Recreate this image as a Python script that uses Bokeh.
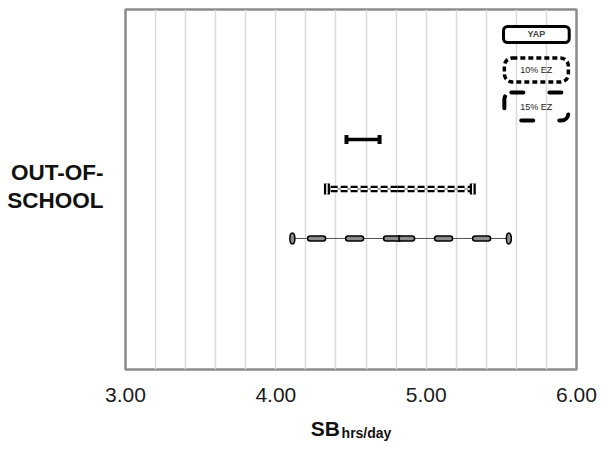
from bokeh.plotting import figure
from bokeh.models import Range1d, FixedTicker, NumeralTickFormatter, Label, LinearAxis
from bokeh.embed import file_html
from bokeh.resources import INLINE

# ---- data ----
groups = ["YAP", "10% EZ", "15% EZ"]
rows = [0, 1, 2]
lower = [4.47, 4.34, 4.11]
upper = [4.69, 5.31, 5.55]
mean = [4.58, 4.81, 4.82]
x_ticks = [3, 4, 5, 6]
grid_ticks = [3.0, 3.2, 3.4, 3.6, 3.8, 4.0, 4.2, 4.4, 4.6, 4.8, 5.0, 5.2, 5.4, 5.6, 5.8, 6.0]
row_label = "OUT-OF-\nSCHOOL"
axis_main = "SB"
axis_sub = "hrs/day"

FONT = "Liberation Sans"

p = figure(width=600, height=446, output_backend="svg", toolbar_location=None,
           x_range=Range1d(3, 6), y_range=Range1d(4.647, -2.626),
           min_border_left=125, min_border_right=24, min_border_top=9, min_border_bottom=77)
p.background_fill_color = "white"
p.border_fill_color = "white"
p.outline_line_color = "#8c8c8c"
p.outline_line_width = 2.5

p.xgrid.ticker = FixedTicker(ticks=grid_ticks)
p.xgrid.grid_line_color = "#d9d9d9"
p.xgrid.grid_line_width = 1.5
p.ygrid.visible = False


def bare(axis):
    axis.axis_line_color = None
    axis.major_tick_line_color = None
    axis.minor_tick_line_color = None
    axis.major_tick_out = 0
    axis.major_tick_in = 0


# x axis with tick values
ax = p.xaxis[0]
bare(ax)
ax.ticker = FixedTicker(ticks=x_ticks)
ax.formatter = NumeralTickFormatter(format="0.00")
ax.major_label_standoff = 18
ax.major_label_text_font = FONT
ax.major_label_text_font_size = "21px"
ax.major_label_text_color = "#1a1a1a"

# axis title "SB" + subscript "hrs/day", as two label-only axes
sb_axis = LinearAxis(ticker=FixedTicker(ticks=[4.33]), major_label_overrides={4.33: axis_main})
bare(sb_axis)
sb_axis.major_label_standoff = 12
sb_axis.major_label_text_font = FONT
sb_axis.major_label_text_font_size = "21px"
sb_axis.major_label_text_font_style = "bold"
sb_axis.major_label_text_color = "#111111"
p.add_layout(sb_axis, "below")

sub_axis = LinearAxis(ticker=FixedTicker(ticks=[4.603]), major_label_overrides={4.603: axis_sub})
bare(sub_axis)
sub_axis.major_label_standoff = -18
sub_axis.major_label_text_font = FONT
sub_axis.major_label_text_font_size = "14px"
sub_axis.major_label_text_font_style = "bold"
sub_axis.major_label_text_color = "#111111"
p.add_layout(sub_axis, "below")

# y axis: the row category label
ay = p.yaxis[0]
bare(ay)
ay.ticker = FixedTicker(ticks=[0.94])
ay.major_label_overrides = {0.94: row_label}
ay.major_label_standoff = 22
ay.major_label_text_font = FONT
ay.major_label_text_font_size = "22.5px"
ay.major_label_text_font_style = "bold"
ay.major_label_text_color = "#111111"
ay.major_label_text_line_height = 1.12

# ---- YAP: solid thick line with caps ----
i = 0
p.segment(x0=[lower[i]], y0=[rows[i]], x1=[upper[i]], y1=[rows[i]], line_color="black", line_width=3.5)
p.rect(x=[lower[i], upper[i]], y=[rows[i], rows[i]], width=4, height=9,
       width_units="screen", height_units="screen", fill_color="black", line_color=None)

# ---- 10% EZ: double dashed ----
i = 1
p.segment(x0=[lower[i]], y0=[rows[i]], x1=[upper[i]], y1=[rows[i]], line_color="#555555", line_width=1)
for col, w in (("black", 6.5), ("white", 1.8)):
    p.segment(x0=[mean[i], mean[i]], y0=[rows[i], rows[i]], x1=[lower[i], upper[i]], y1=[rows[i], rows[i]],
              line_color=col, line_width=w, line_dash="7 3")
p.rect(x=[lower[i], upper[i]], y=[rows[i], rows[i]], width=6, height=11,
       width_units="screen", height_units="screen", fill_color="black", line_color=None)
p.rect(x=[lower[i], upper[i]], y=[rows[i], rows[i]], width=1.5, height=11,
       width_units="screen", height_units="screen", fill_color="white", line_color=None)

# ---- 15% EZ: capsule dashes ----
i = 2
p.segment(x0=[lower[i]], y0=[rows[i]], x1=[upper[i]], y1=[rows[i]], line_color="#555555", line_width=1)
for col, w in (("black", 6.5), ("#8c8c8c", 3.5)):
    p.segment(x0=[mean[i], mean[i]], y0=[rows[i], rows[i]], x1=[lower[i], upper[i]], y1=[rows[i], rows[i]],
              line_color=col, line_width=w, line_dash="13 25", line_cap="round")
p.rect(x=[mean[i]], y=[rows[i]], width=1.5, height=6,
       width_units="screen", height_units="screen", fill_color="black", line_color=None)
p.ellipse(x=[lower[i], upper[i]], y=[rows[i], rows[i]], width=5, height=11,
          width_units="screen", height_units="screen", fill_color="#8c8c8c",
          line_color="black", line_width=1.5)

# ---- legend boxes ----
leg_x = 5.733
leg_y = [-2.121, -1.404, -0.666]
p.add_layout(Label(x=leg_x, y=leg_y[0], text=groups[0], text_align="center", text_baseline="middle",
                   text_font=FONT, text_font_size="9px", text_font_style="bold",
                   border_line_color="black", border_line_width=3, border_radius=4,
                   background_fill_color="white", padding=(24, 3)))
p.add_layout(Label(x=leg_x, y=leg_y[1], text=groups[1], text_align="center", text_baseline="middle",
                   text_font=FONT, text_font_size="9px", text_color="#222222",
                   border_line_color="black", border_line_width=3.5, border_line_dash="5 3",
                   border_radius=8, padding=(16, 7)))
p.add_layout(Label(x=leg_x, y=leg_y[2], text=groups[2], text_align="center", text_baseline="middle",
                   text_font=FONT, text_font_size="9px", text_color="#222222",
                   border_line_color="black", border_line_width=4, border_line_dash="12 26",
                   border_line_cap="round", border_radius=7, padding=(16, 9)))

open("out.html", "w").write(file_html(p, INLINE))
